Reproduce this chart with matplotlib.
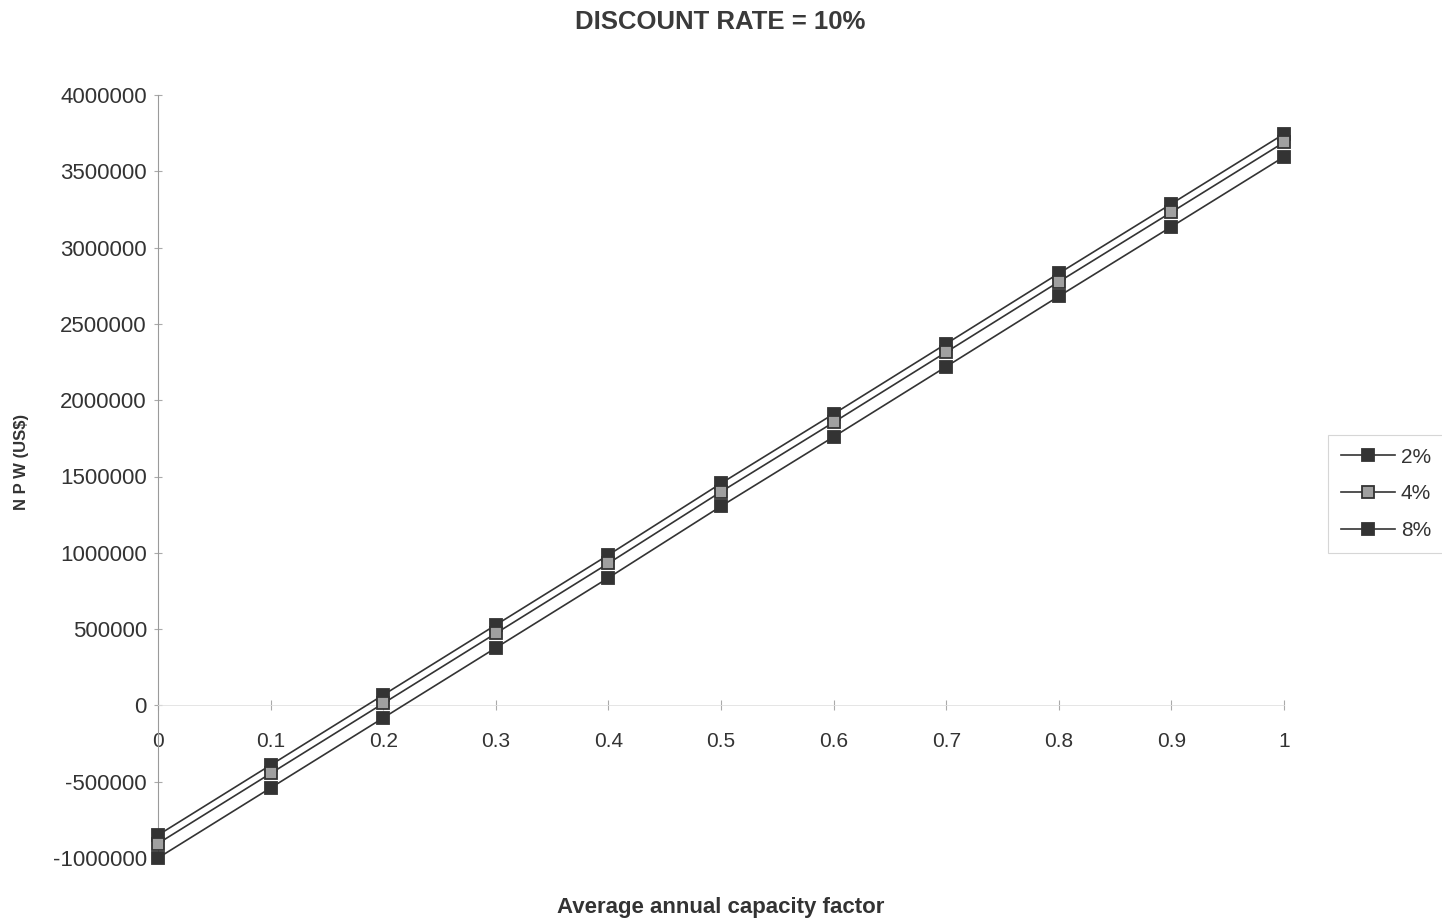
import matplotlib
matplotlib.use("Agg")
import matplotlib.pyplot as plt
from matplotlib.ticker import FixedLocator, FuncFormatter

plt.rcParams['font.family'] = ['Liberation Sans', 'DejaVu Sans']
plt.rcParams['axes.unicode_minus'] = False

capacity = [0, 0.1, 0.2, 0.3, 0.4, 0.5, 0.6, 0.7, 0.8, 0.9, 1.0]
npw_2 = [-850000, -391000, 68000, 527000, 986000, 1455000, 1910000, 2370000, 2831000, 3287000, 3745000]
npw_4 = [-905000, -446000, 13000, 472000, 931000, 1400000, 1855000, 2315000, 2776000, 3232000, 3690000]
npw_8 = [-1000000, -541000, -82000, 377000, 836000, 1305000, 1760000, 2220000, 2681000, 3137000, 3595000]
series_labels = ['2%', '4%', '8%']
x_ticks = [0, 0.1, 0.2, 0.3, 0.4, 0.5, 0.6, 0.7, 0.8, 0.9, 1]
x_tick_labels = ['0', '0.1', '0.2', '0.3', '0.4', '0.5', '0.6', '0.7', '0.8', '0.9', '1']
y_ticks = [-1000000, -500000, 0, 500000, 1000000, 1500000, 2000000, 2500000, 3000000, 3500000, 4000000]

fig = plt.figure(figsize=(14.42, 9.23), dpi=100)
ax = fig.add_axes([158/1442, 1-858/923, (1284-158)/1442, (858-95)/923])

dark = '#333333'
styles = [dict(mfc=dark, mec=dark), dict(mfc='#a0a0a0', mec=dark), dict(mfc=dark, mec=dark)]
for vals, lab, st in zip([npw_2, npw_4, npw_8], series_labels, styles):
    ax.plot(capacity, vals, color=dark, lw=1.2, marker='s', ms=9, mew=1.3,
            clip_on=False, label=lab, zorder=3, **st)

ax.set_xlim(0, 1)
ax.set_ylim(-1000000, 4000000)
for s in ['top', 'right']:
    ax.spines[s].set_visible(False)
ax.spines['bottom'].set_position(('data', 0))
ax.spines['bottom'].set_color('#e0e0e0')
ax.spines['bottom'].set_linewidth(0.6)
ax.spines['left'].set_color('#9a9a9a')
ax.spines['left'].set_linewidth(0.8)

ax.xaxis.set_major_locator(FixedLocator(x_ticks))
ax.set_xticklabels(x_tick_labels)
ax.yaxis.set_major_locator(FixedLocator(y_ticks))
ax.yaxis.set_major_formatter(FuncFormatter(lambda v, p: '%d' % v))
ax.tick_params(axis='x', direction='inout', length=7, width=0.8, color='#aaaaaa',
               labelsize=15, labelcolor='#333333', pad=16)
ax.tick_params(axis='y', direction='inout', length=6, width=0.8, color='#aaaaaa',
               labelsize=16, labelcolor='#333333', pad=5)

fig.text(720/1442, 1-22/923, 'DISCOUNT RATE = 10%', ha='center', va='center',
         fontsize=18.5, fontweight='bold', color='#3a3a3a')
fig.text(721/1442, 1-907/923, 'Average annual capacity factor', ha='center', va='center',
         fontsize=16, fontweight='bold', color='#333333')
fig.text(22/1442, 1-462/923, 'N P W (US$)', ha='center', va='center', rotation=90,
         fontsize=12, fontweight='bold', color='#333333')

leg = ax.legend(loc='center left', bbox_to_anchor=(1328/1442, 1-494/923),
                bbox_transform=fig.transFigure, frameon=True, fontsize=15,
                handlelength=2.6, handletextpad=0.3, labelspacing=0.85,
                borderpad=0.6, borderaxespad=0, fancybox=False)
leg.get_frame().set_edgecolor('#cccccc')
leg.get_frame().set_linewidth(0.8)
for t in leg.get_texts():
    t.set_color('#333333')

fig.savefig('out.png', dpi=100)
